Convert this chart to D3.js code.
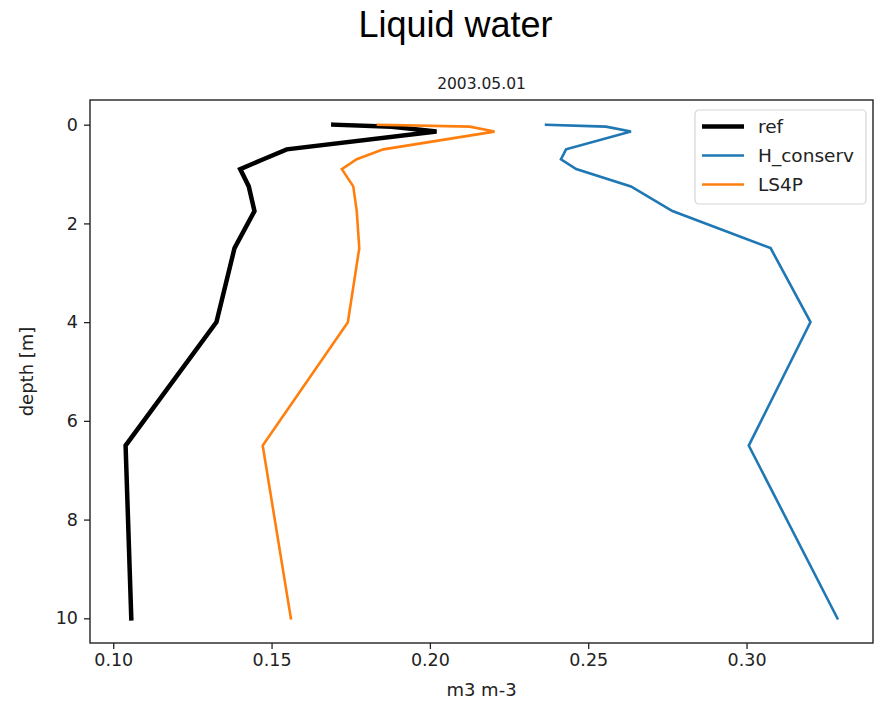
<!DOCTYPE html>
<html>
<head>
<meta charset="utf-8">
<script src="https://cdn.jsdelivr.net/npm/d3@7"></script>
<style>
  body { margin: 0; background: #fff; }
  text { font-family: "DejaVu Sans", sans-serif; fill: #222; }
</style>
</head>
<body>
<div id="chart"></div>
<script>
// depth levels [m]
const depths = [0, 0.04, 0.14, 0.5, 0.7, 0.9, 1.25, 1.75, 2.5, 4, 6.5, 10];
// liquid water content, m3 m-3
const refValues = [0.1695, 0.188, 0.2021, 0.1548, 0.1474, 0.1401, 0.1428, 0.1446, 0.1383, 0.1326, 0.1039, 0.1057];
const hConservValues = [0.2367, 0.2556, 0.2635, 0.2430, 0.2414, 0.2462, 0.2635, 0.2766, 0.3076, 0.3202, 0.3007, 0.3287];
const ls4pValues = [0.1836, 0.2126, 0.2204, 0.1853, 0.1769, 0.1722, 0.1758, 0.1769, 0.1777, 0.1741, 0.1472, 0.1561];
const seriesNames = ["ref", "H_conserv", "LS4P"];
const xTicks = [0.10, 0.15, 0.20, 0.25, 0.30];
const yTicks = [0, 2, 4, 6, 8, 10];

const W = 883, H = 706;
const margin = { top: 100, right: 10, bottom: 63, left: 90 };
const width = W - margin.left - margin.right;
const height = H - margin.top - margin.bottom;

const series = [
  { name: seriesNames[0], values: refValues, color: "#000000", lw: 4.5 },
  { name: seriesNames[1], values: hConservValues, color: "#1f77b4", lw: 2.6 },
  { name: seriesNames[2], values: ls4pValues, color: "#ff7f0e", lw: 2.6 }
];

const svg = d3.select("#chart").append("svg")
  .attr("width", W)
  .attr("height", H);

// matplotlib-style 5% padding on data range
const allVals = [].concat(refValues, hConservValues, ls4pValues);
const xMin = d3.min(allVals), xMax = d3.max(allVals);
const xPad = (xMax - xMin) * 0.05;
const yPad = (d3.max(depths) - d3.min(depths)) * 0.05;

const x = d3.scaleLinear()
  .domain([xMin - xPad, xMax + xPad])
  .range([0, width]);
const y = d3.scaleLinear()
  .domain([d3.max(depths) + yPad, d3.min(depths) - yPad])
  .range([height, 0]);

svg.append("text")
  .attr("x", W / 2 + 14)
  .attr("y", 37)
  .attr("text-anchor", "middle")
  .style("font-family", "'Liberation Sans', Arial, sans-serif")
  .style("font-size", "36px")
  .style("fill", "#000")
  .text("Liquid water");

const g = svg.append("g")
  .attr("transform", "translate(" + margin.left + "," + margin.top + ")");

g.append("text")
  .attr("x", width / 2)
  .attr("y", -11)
  .attr("text-anchor", "middle")
  .style("font-size", "15.5px")
  .text("2003.05.01");

const line = d3.line()
  .x(d => x(d[0]))
  .y(d => y(d[1]));

series.forEach(s => {
  g.append("path")
    .datum(s.values.map((v, i) => [v, depths[i]]))
    .attr("d", line)
    .attr("fill", "none")
    .attr("stroke", s.color)
    .attr("stroke-width", s.lw)
    .attr("stroke-linejoin", "miter")
    .attr("stroke-linecap", "square");
});

// axes
const xAxis = g.append("g")
  .attr("transform", "translate(0," + height + ")")
  .call(d3.axisBottom(x).tickValues(xTicks).tickFormat(d3.format(".2f")).tickSizeOuter(0).tickSize(6).tickPadding(5));
const yAxis = g.append("g")
  .call(d3.axisLeft(y).tickValues(yTicks).tickFormat(d3.format("d")).tickSizeOuter(0).tickSize(6).tickPadding(6));

[xAxis, yAxis].forEach(a => {
  a.select(".domain").remove();
  a.selectAll(".tick line").attr("stroke", "#222").attr("stroke-width", 1.3);
  a.selectAll(".tick text").style("font-size", "17.5px").style("font-family", "'DejaVu Sans', sans-serif").attr("fill", "#222");
});

// frame
g.append("rect")
  .attr("width", width)
  .attr("height", height)
  .attr("fill", "none")
  .attr("stroke", "#222")
  .attr("stroke-width", 1.4);

g.append("text")
  .attr("x", width / 2)
  .attr("y", height + 53)
  .attr("text-anchor", "middle")
  .style("font-size", "18px")
  .text("m3 m-3");

g.append("text")
  .attr("transform", "translate(" + (-57) + "," + (height / 2) + ") rotate(-90)")
  .attr("text-anchor", "middle")
  .style("font-size", "18px")
  .text("depth [m]");

// legend
const legend = g.append("g")
  .attr("transform", "translate(" + (width - 178) + ",10)");
legend.append("rect")
  .attr("width", 171)
  .attr("height", 94)
  .attr("rx", 4)
  .attr("fill", "#fff")
  .attr("fill-opacity", 0.8)
  .attr("stroke", "#d5d5d5")
  .attr("stroke-width", 1.2);

series.forEach((s, i) => {
  const row = legend.append("g")
    .attr("transform", "translate(0," + (16.5 + i * 29) + ")");
  row.append("line")
    .attr("x1", 7)
    .attr("x2", 49)
    .attr("stroke", s.color)
    .attr("stroke-width", s.lw);
  row.append("text")
    .attr("x", 63)
    .attr("dy", "0.35em")
    .style("font-size", "18.5px")
    .text(s.name);
});
</script>
</body>
</html>
